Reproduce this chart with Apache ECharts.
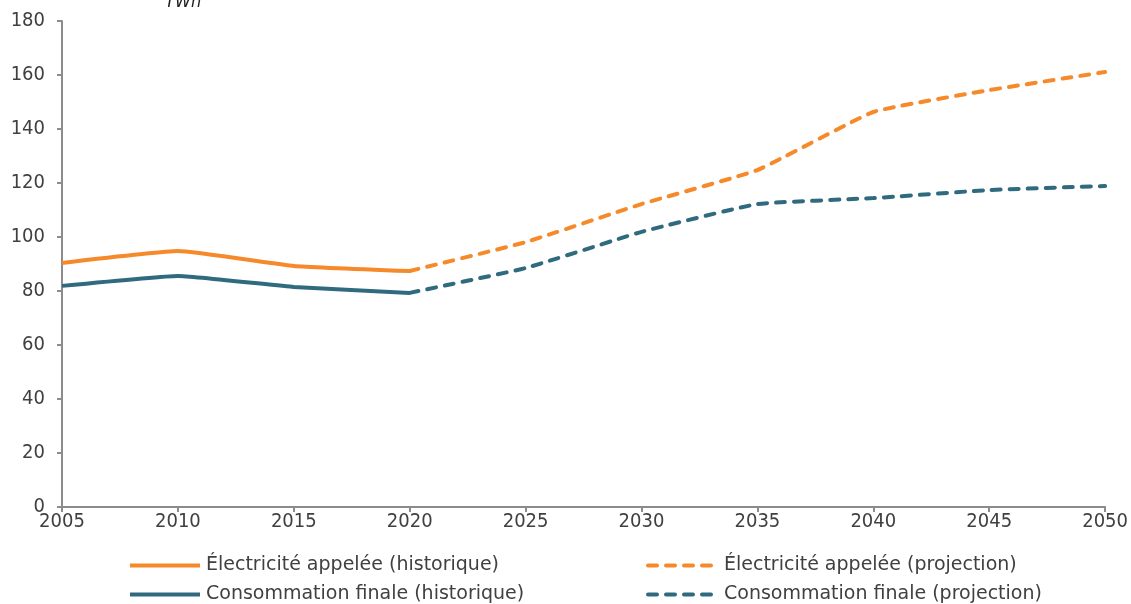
<!DOCTYPE html>
<html>
<head>
<meta charset="utf-8">
<script src="https://cdn.jsdelivr.net/npm/echarts@6/dist/echarts.min.js"></script>
<style>
  html, body { margin: 0; padding: 0; background: #fff; }
  #chart { width: 1131px; height: 604px; }
</style>
</head>
<body>
<div id="chart"></div>
<script>
const years = ["2005", "2010", "2015", "2020", "2025", "2030", "2035", "2040", "2045", "2050"];
// historique : 2005-2020, projection : 2020-2050
const elecHist = [90.4, 94.8, 89.3, 87.4, "-", "-", "-", "-", "-", "-"];
const elecProj = ["-", "-", "-", 87.4, 98.1, 112.2, 124.8, 146.3, 154.4, 161.1];
const consoHist = [81.9, 85.6, 81.5, 79.3, "-", "-", "-", "-", "-", "-"];
const consoProj = ["-", "-", "-", 79.3, 88.5, 101.9, 112.2, 114.4, 117.4, 118.9];

const ORANGE = "#F6892A";
const TEAL = "#2F6A7F";
const FONT = "DejaVu Sans Condensed";
const LEGEND_FONT = "DejaVu Sans";

const chart = echarts.init(document.getElementById("chart"));

function serie(name, data, color, dashed) {
  return {
    name: name,
    type: "line",
    data: data,
    symbol: "none",
    smooth: 0.12,
    connectNulls: false,
    animation: false,
    lineStyle: dashed
      ? { color: color, width: 4, type: [9, 9], cap: "round" }
      : { color: color, width: 4, type: "solid" },
    itemStyle: { color: color }
  };
}

function legendItem(name, left, top) {
  return {
    left: left,
    top: top,
    padding: 0,
    itemWidth: 70,
    itemHeight: 14,
    itemGap: 0,
    data: [name],
    itemStyle: { opacity: 0 },
    lineStyle: { width: 4 },
    textStyle: { fontFamily: LEGEND_FONT, fontSize: 19, color: "#404040", padding: [0, 0, 0, 1] }
  };
}

chart.setOption({
  backgroundColor: "#fff",
  textStyle: { fontFamily: FONT },
  title: {
    text: "TWh",
    left: 160,
    top: -12,
    textStyle: { fontFamily: FONT, fontSize: 18, fontStyle: "italic", fontWeight: "normal", color: "#222" }
  },
  grid: { left: 62, right: 24, top: 21, bottom: 97, containLabel: false },
  legend: [
    legendItem("Électricité appelée (historique)", 128, 556),
    legendItem("Consommation finale (historique)", 128, 585),
    legendItem("Électricité appelée (projection)", 646, 556),
    legendItem("Consommation finale (projection)", 646, 585)
  ],
  xAxis: {
    type: "category",
    data: years,
    boundaryGap: false,
    axisLine: { lineStyle: { color: "#8c8c8c", width: 2 } },
    axisTick: { show: true, length: 5, lineStyle: { color: "#8c8c8c", width: 2 } },
    axisLabel: { fontFamily: FONT, fontSize: 20, color: "#404040", margin: 5 },
    splitLine: { show: false }
  },
  yAxis: {
    type: "value",
    min: 0,
    max: 180,
    interval: 20,
    axisLine: { show: true, lineStyle: { color: "#8c8c8c", width: 2 } },
    axisTick: { show: true, length: 5, lineStyle: { color: "#8c8c8c", width: 2 } },
    axisLabel: { fontFamily: FONT, fontSize: 20, color: "#404040", margin: 17 },
    splitLine: { show: false }
  },
  series: [
    serie("Électricité appelée (historique)", elecHist, ORANGE, false),
    serie("Électricité appelée (projection)", elecProj, ORANGE, true),
    serie("Consommation finale (historique)", consoHist, TEAL, false),
    serie("Consommation finale (projection)", consoProj, TEAL, true)
  ]
});
</script>
</body>
</html>
